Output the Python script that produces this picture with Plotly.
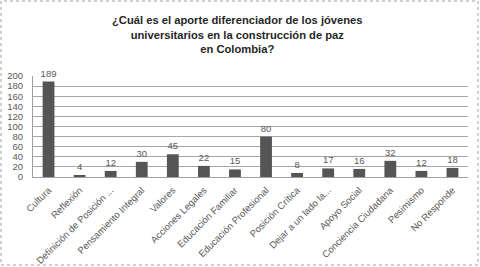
import plotly.graph_objects as go

categories = ["Cultura", "Reflexión", "Definición de Posición ...", "Pensamiento Integral",
              "Valores", "Acciones Legales", "Educación Familiar", "Educación Profesional",
              "Posición Crítica", "Dejar a un lado la...", "Apoyo Social",
              "Conciencia Ciudadana", "Pesimismo", "No Responde"]
values = [189, 4, 12, 30, 45, 22, 15, 80, 8, 17, 16, 32, 12, 18]
y_ticks = [0, 20, 40, 60, 80, 100, 120, 140, 160, 180, 200]
title_text = "¿Cuál es el aporte diferenciador de los jóvenes<br>universitarios en la construcción de paz<br>en Colombia?"

L, R, T, B = 33, 12, 76, 90
W, H = 480, 267
pw = W - L - R
ph = H - T - B

def px_to_paper_y(py):
    return (H - B - py) / ph

def px_to_paper_x(px):
    return (px - L) / pw

fig = go.Figure(go.Bar(
    x=categories, y=values, width=0.38,
    marker=dict(color="#555555", line=dict(width=0)),
    text=[str(v) for v in values], textposition="outside", constraintext="none",
    textfont=dict(size=9.5, color="#595959", family="Liberation Sans"),
    cliponaxis=False,
))

fig.update_layout(
    width=W, height=H,
    margin=dict(l=L, r=R, t=T, b=B, autoexpand=False),
    paper_bgcolor="white", plot_bgcolor="white",
    showlegend=False,
    font=dict(family="Liberation Sans", color="#595959", size=9),
)
fig.update_xaxes(tickangle=-45, tickfont=dict(size=9.5, color="#595959"),
                 showline=True, linecolor="#a0a0a0", linewidth=1, ticks="",
                 showgrid=False, automargin=False, ticklabelstandoff=3)
fig.update_yaxes(range=[0, 200], tickvals=y_ticks, tickfont=dict(size=9.5, color="#595959"),
                 showgrid=True, gridcolor="#a6a6a6", gridwidth=1,
                 showline=True, linecolor="#a0a0a0", linewidth=1,
                 zeroline=False, ticks="", automargin=False, ticklabelstandoff=7)

fig.add_annotation(text="<b>" + title_text + "</b>", xref="paper", yref="paper",
                   x=px_to_paper_x(237), y=px_to_paper_y(12),
                   xanchor="center", yanchor="top", showarrow=False,
                   font=dict(size=11.2, color="#262626", family="Liberation Sans"))

# dotted frame around the whole picture
fig.add_shape(type="rect", xref="paper", yref="paper",
              x0=px_to_paper_x(1), x1=px_to_paper_x(W - 2),
              y0=px_to_paper_y(H - 2), y1=px_to_paper_y(1),
              line=dict(color="#a0a0a0", width=1, dash="dot"), layer="below")

fig.write_html("out.html", config={"displayModeBar": False, "staticPlot": True},
               post_script="document.body.style.margin='0';document.body.style.overflow='hidden';")
